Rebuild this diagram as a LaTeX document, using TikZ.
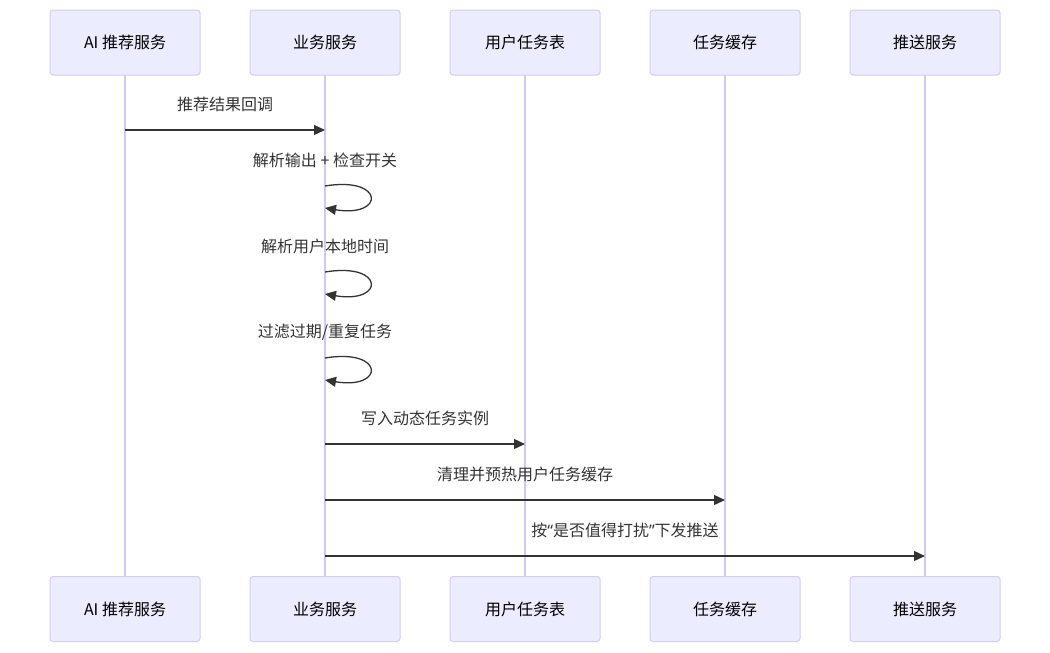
\documentclass[tikz,border=0pt]{standalone}
\usepackage{fontspec}
\setmainfont{Noto Sans CJK SC}
\newfontfamily\latinq{Noto Sans}
\usetikzlibrary{arrows.meta}
\definecolor{actfill}{HTML}{ECECFF}
\definecolor{actborder}{HTML}{D5CCF3}
\definecolor{lifeline}{HTML}{D0C8F0}
\definecolor{msg}{HTML}{333333}
\tikzset{
  actor/.style={draw=actborder, fill=actfill, line width=1pt, rounded corners=3pt,
    minimum width=150pt, minimum height=65pt, inner sep=0pt, font=\fontsize{16}{19}\selectfont, text=black},
  life/.style={draw=lifeline, line width=1.5pt},
  msgline/.style={draw=msg, line width=1.3pt, -{Triangle[length=11pt,width=10pt]}},
  msglabel/.style={font=\fontsize{16}{19}\selectfont, text=msg, inner sep=0pt}
}
\begin{document}
\begin{tikzpicture}[x=1pt,y=-1pt]
\useasboundingbox (0,0) rectangle (1050,653);
% lifelines first
\foreach \i/\x in {a/125,b/325,c/525,d/725,e/925}{
  \coordinate (\i top) at (\x,75);
  \coordinate (\i bot) at (\x,577);
  \draw[life] (\i top) -- (\i bot);
}
% top actors
\node[actor] (a1) at (125,42.5) {AI 推荐服务};
\node[actor] (b1) at (325,42.5) {业务服务};
\node[actor] (c1) at (525,42.5) {用户任务表};
\node[actor] (d1) at (725,42.5) {任务缓存};
\node[actor] (e1) at (925,42.5) {推送服务};
% bottom actors
\node[actor] (a2) at (125,609) {AI 推荐服务};
\node[actor] (b2) at (325,609) {业务服务};
\node[actor] (c2) at (525,609) {用户任务表};
\node[actor] (d2) at (725,609) {任务缓存};
\node[actor] (e2) at (925,609) {推送服务};
% message 1
\coordinate (m1s) at (125,130);
\coordinate (m1e) at (325,130);
\node[msglabel] (l1) at (225,104.5) {推荐结果回调};
\draw[msgline] (m1s) -- (m1e);
% self loops
\node[msglabel] (l2) at (325,160.5) {解析输出 + 检查开关};
\coordinate (s2a) at (325,186);
\coordinate (s2b) at (325,208);
\draw[msgline] (s2a) .. controls +(60,-10) and +(60,10) .. (s2b);
\node[msglabel] (l3) at (325,246.5) {解析用户本地时间};
\coordinate (s3a) at (325,272);
\coordinate (s3b) at (325,294);
\draw[msgline] (s3a) .. controls +(60,-10) and +(60,10) .. (s3b);
\node[msglabel] (l4) at (325,332.5) {过滤过期/重复任务};
\coordinate (s4a) at (325,358);
\coordinate (s4b) at (325,380);
\draw[msgline] (s4a) .. controls +(60,-10) and +(60,10) .. (s4b);
% message 5
\coordinate (m5s) at (325,444);
\coordinate (m5e) at (525,444);
\node[msglabel] (l5) at (425,418.5) {写入动态任务实例};
\draw[msgline] (m5s) -- (m5e);
% message 6
\coordinate (m6s) at (325,500);
\coordinate (m6e) at (725,500);
\node[msglabel] (l6) at (525,474.5) {清理并预热用户任务缓存};
\draw[msgline] (m6s) -- (m6e);
% message 7
\coordinate (m7s) at (325,556);
\coordinate (m7e) at (925,556);
\node[msglabel] (l7) at (625,530.5) {按{\latinq “}是否值得打扰{\latinq ”}下发推送};
\draw[msgline] (m7s) -- (m7e);
\end{tikzpicture}
\end{document}
